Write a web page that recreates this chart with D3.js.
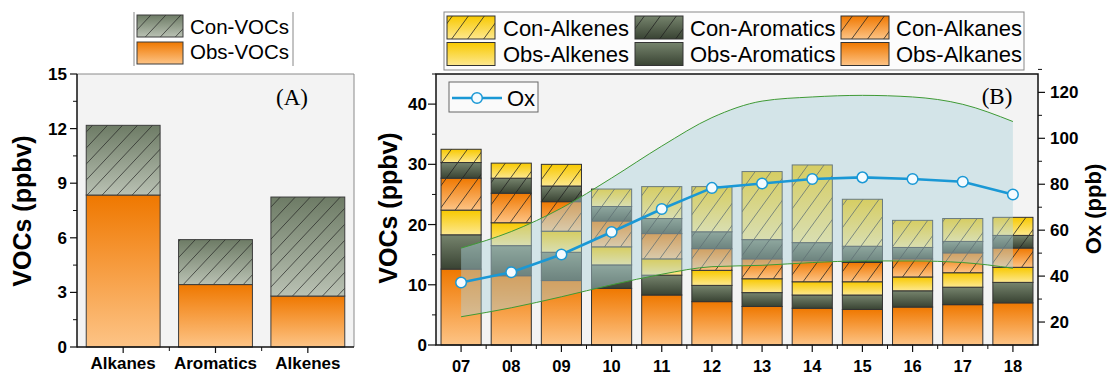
<!DOCTYPE html>
<html><head><meta charset="utf-8">
<script src="https://cdn.jsdelivr.net/npm/d3@7"></script>
<style>body{margin:0;background:#fff}svg{display:block;font-family:Arial,"Liberation Sans",sans-serif}</style>
</head><body><svg id="c" width="1108" height="373"></svg>
<script>
// ---------- data ----------
const categoriesA = ["Alkanes", "Aromatics", "Alkenes"];
const obsVOCs = [8.35, 3.43, 2.80];
const conVOCs = [3.83, 2.47, 5.44];
const ticksA = [0, 3, 6, 9, 12, 15];

const hours = ["07","08","09","10","11","12","13","14","15","16","17","18"];
const obsAlkanes   = [12.6, 11.5, 10.7, 9.4, 8.3, 7.2, 6.4, 6.1, 5.9, 6.3, 6.7, 7.0];
const obsAromatics = [5.7, 5.0, 4.7, 3.9, 3.3, 2.7, 2.3, 2.2, 2.4, 2.7, 2.9, 3.4];
const obsAlkenes   = [4.1, 3.8, 3.5, 3.0, 2.7, 2.5, 2.3, 2.2, 2.2, 2.3, 2.4, 2.5];
const conAlkanes   = [5.3, 4.9, 4.9, 4.3, 4.2, 3.6, 3.3, 3.5, 3.2, 3.0, 3.3, 3.2];
const conAromatics = [2.6, 2.5, 2.6, 2.4, 2.5, 2.8, 3.2, 3.0, 2.7, 1.9, 1.9, 2.1];
const conAlkenes   = [2.2, 2.5, 3.6, 2.9, 5.3, 7.5, 11.3, 12.9, 7.8, 4.5, 3.8, 3.0];
const oxValues = [37.2, 41.7, 49.4, 59.2, 69.2, 78.4, 80.3, 82.3, 83.0, 82.3, 81.1, 75.5];
const oxUpper  = [52.2, 59.4, 69.6, 82.7, 96.6, 109.0, 116.2, 118.0, 118.7, 118.0, 114.8, 107.3];
const oxLower  = [22.3, 26.2, 31.0, 36.2, 40.8, 44.1, 44.7, 45.9, 46.6, 46.6, 45.9, 43.4];
const ticksVOCs = [0, 10, 20, 30, 40];
const ticksOx = [20, 40, 60, 80, 100, 120];

// ---------- setup ----------
const svg = d3.select("#c");
const defs = svg.append("defs");
const SERIF = "'Liberation Serif','Times New Roman',serif";
function linGrad(id, stops) {
  const g = defs.append("linearGradient").attr("id", id)
    .attr("x1", 0).attr("y1", 0).attr("x2", 0).attr("y2", 1);
  stops.forEach(([o, c]) => g.append("stop").attr("offset", o).attr("stop-color", c));
}
linGrad("gOr", [[0, "#ef7800"], [0.45, "#f69a3c"], [1, "#fdc486"]]);
linGrad("gGr", [[0, "#76846d"], [1, "#394333"]]);
linGrad("gYe", [[0, "#f8c900"], [1, "#fde88f"]]);
linGrad("gConA", [[0, "#6d7b65"], [1, "#b9c1b3"]]);
function hatch(id, w, h) {
  defs.append("pattern").attr("id", id).attr("patternUnits", "userSpaceOnUse")
    .attr("width", w).attr("height", h)
    .append("path").attr("d", `M0,${h}L${w},0M${-w},${h}L0,0M${w},${h}L${2*w},0`)
    .attr("stroke", "#1e1e1e").attr("stroke-width", 0.9).attr("fill", "none");
}
hatch("hB", 16, 22);
hatch("hA", 15, 16);

const BOLD = "bold";

// ---------- Panel A ----------
const A = {l: 77, r: 354, t: 74, b: 347};
const xA = d3.scaleBand().domain(categoriesA).range([A.l, A.r]).paddingInner(0.2).paddingOuter(0.1);
const yA = d3.scaleLinear().domain([0, 15]).range([A.b, A.t]);
const gA = svg.append("g");
gA.append("rect").attr("x", A.l).attr("y", A.t).attr("width", A.r - A.l).attr("height", A.b - A.t).attr("fill", "#f3f3f3");
gA.append("line").attr("x1", A.l).attr("x2", A.r).attr("y1", A.t).attr("y2", A.t).attr("stroke", "#8a8a8a");
gA.append("line").attr("x1", A.r).attr("x2", A.r).attr("y1", A.t).attr("y2", A.b).attr("stroke", "#8a8a8a");

categoriesA.forEach((c, i) => {
  const x = xA(c), w = xA.bandwidth();
  gA.append("rect").attr("x", x).attr("width", w).attr("y", yA(obsVOCs[i])).attr("height", yA(0) - yA(obsVOCs[i]))
    .attr("fill", "url(#gOr)").attr("stroke", "#3c3c3c");
  const top = obsVOCs[i] + conVOCs[i];
  const y0 = yA(top), hh = yA(obsVOCs[i]) - yA(top);
  gA.append("rect").attr("x", x).attr("width", w).attr("y", y0).attr("height", hh).attr("fill", "url(#gConA)");
  gA.append("rect").attr("x", x).attr("width", w).attr("y", y0).attr("height", hh).attr("fill", "url(#hA)").attr("opacity", 0.75);
  gA.append("rect").attr("x", x).attr("width", w).attr("y", y0).attr("height", hh).attr("fill", "none").attr("stroke", "#3c3c3c");
});
// axes A
gA.append("line").attr("x1", A.l).attr("x2", A.l).attr("y1", A.t).attr("y2", A.b + 0.5).attr("stroke", "#111").attr("stroke-width", 1.5);
gA.append("line").attr("x1", A.l).attr("x2", A.r).attr("y1", A.b).attr("y2", A.b).attr("stroke", "#111").attr("stroke-width", 1.5);
ticksA.forEach(t => {
  gA.append("line").attr("x1", A.l - 7).attr("x2", A.l).attr("y1", yA(t)).attr("y2", yA(t)).attr("stroke", "#111").attr("stroke-width", 1.2);
  gA.append("text").attr("x", A.l - 10).attr("y", yA(t) + 6).attr("text-anchor", "end")
    .attr("font-size", 17).attr("font-weight", BOLD).text(t);
  if (t < 15) gA.append("line").attr("x1", A.l - 4).attr("x2", A.l).attr("y1", yA(t + 1.5)).attr("y2", yA(t + 1.5)).attr("stroke", "#111");
});
categoriesA.forEach((c, i) => {
  const cx = xA(c) + xA.bandwidth() / 2;
  gA.append("line").attr("x1", cx).attr("x2", cx).attr("y1", A.b).attr("y2", A.b + 6).attr("stroke", "#111").attr("stroke-width", 1.2);
  gA.append("text").attr("x", cx).attr("y", 369).attr("text-anchor", "middle").attr("font-size", 17).attr("font-weight", BOLD).text(c);
  if (i > 0) {
    const bx = xA(c) - xA.step() * xA.paddingInner() / 2;
    gA.append("line").attr("x1", bx).attr("x2", bx).attr("y1", A.b).attr("y2", A.b + 4).attr("stroke", "#111");
  }
});
gA.append("text").attr("transform", "translate(30.5,211) rotate(-90)").attr("text-anchor", "middle")
  .attr("font-size", 25).attr("font-weight", BOLD).text("VOCs (ppbv)");
gA.append("text").attr("x", 292).attr("y", 105).attr("text-anchor", "middle")
  .style("font-family", SERIF).attr("font-size", 23).text("(A)");
// legend A
gA.append("line").attr("x1", 134).attr("x2", 134).attr("y1", 12).attr("y2", 66).attr("stroke", "#888");
gA.append("line").attr("x1", 293).attr("x2", 293).attr("y1", 12).attr("y2", 66).attr("stroke", "#888");
[["Con-VOCs", "url(#gConA)", true, 15, 34], ["Obs-VOCs", "url(#gOr)", false, 42, 59]].forEach(([lab, fill, h, y, by]) => {
  gA.append("rect").attr("x", 137).attr("y", y).attr("width", 46).attr("height", 22).attr("fill", fill);
  if (h) gA.append("rect").attr("x", 137).attr("y", y).attr("width", 46).attr("height", 22).attr("fill", "url(#hA)").attr("opacity", 0.75);
  gA.append("rect").attr("x", 137).attr("y", y).attr("width", 46).attr("height", 22).attr("fill", "none").attr("stroke", "#3c3c3c");
  gA.append("text").attr("x", 190).attr("y", by).attr("font-size", 20.5).text(lab);
});

// ---------- Panel B ----------
const B = {l: 436, r: 1038, t: 74, b: 345};
const xB = d3.scaleBand().domain(hours).range([B.l, B.r]).paddingInner(0.2).paddingOuter(0.1);
const yB = d3.scaleLinear().domain([0, 45]).range([B.b, B.t]);
const yOx = d3.scaleLinear().domain([10, 128]).range([B.b, B.t]);
const cxB = h => xB(h) + xB.bandwidth() / 2;
const gB = svg.append("g");
gB.append("rect").attr("x", B.l).attr("y", B.t).attr("width", B.r - B.l).attr("height", B.b - B.t).attr("fill", "#f3f3f3");

const seriesB = [
  {name: "Obs-Alkanes", vals: obsAlkanes, fill: "url(#gOr)", h: false},
  {name: "Obs-Aromatics", vals: obsAromatics, fill: "url(#gGr)", h: false},
  {name: "Obs-Alkenes", vals: obsAlkenes, fill: "url(#gYe)", h: false},
  {name: "Con-Alkanes", vals: conAlkanes, fill: "url(#gOr)", h: true},
  {name: "Con-Aromatics", vals: conAromatics, fill: "url(#gGr)", h: true},
  {name: "Con-Alkenes", vals: conAlkenes, fill: "url(#gYe)", h: true}
];
const tableB = hours.map((h, i) => {
  const o = {hour: h};
  seriesB.forEach(s => o[s.name] = s.vals[i]);
  return o;
});
const stacked = d3.stack().keys(seriesB.map(s => s.name))(tableB);
stacked.forEach((layer, li) => {
  const s = seriesB[li];
  layer.forEach(d => {
    const x = xB(d.data.hour), w = xB.bandwidth(), y = yB(d[1]), hh = yB(d[0]) - yB(d[1]);
    gB.append("rect").attr("x", x).attr("y", y).attr("width", w).attr("height", hh).attr("fill", s.fill);
    if (s.h) gB.append("rect").attr("x", x).attr("y", y).attr("width", w).attr("height", hh).attr("fill", "url(#hB)").attr("opacity", 0.85);
    gB.append("rect").attr("x", x).attr("y", y).attr("width", w).attr("height", hh).attr("fill", "none").attr("stroke", "#333").attr("stroke-width", 1);
  });
});
// shaded Ox band
const bandData = hours.map((h, i) => ({h, lo: oxLower[i], hi: oxUpper[i]}));
gB.append("path").datum(bandData)
  .attr("d", d3.area().x(d => cxB(d.h)).y0(d => yOx(d.lo)).y1(d => yOx(d.hi)).curve(d3.curveMonotoneX))
  .attr("fill", "#aed3dc").attr("opacity", 0.45);
["hi", "lo"].forEach(k => {
  gB.append("path").datum(bandData)
    .attr("d", d3.line().x(d => cxB(d.h)).y(d => yOx(d[k])).curve(d3.curveMonotoneX))
    .attr("fill", "none").attr("stroke", "#3f9a35").attr("stroke-width", 1);
});
// Ox line
const oxData = hours.map((h, i) => ({h, v: oxValues[i]}));
gB.append("path").datum(oxData).attr("d", d3.line().x(d => cxB(d.h)).y(d => yOx(d.v)))
  .attr("fill", "none").attr("stroke", "#1a98d5").attr("stroke-width", 2.6);
gB.selectAll("circle.ox").data(oxData).join("circle").attr("class", "ox")
  .attr("cx", d => cxB(d.h)).attr("cy", d => yOx(d.v)).attr("r", 5.3)
  .attr("fill", "#f4fbff").attr("stroke", "#1a98d5").attr("stroke-width", 1.5);

// frame & axes B
gB.append("rect").attr("x", B.l).attr("y", B.t).attr("width", B.r - B.l).attr("height", B.b - B.t)
  .attr("fill", "none").attr("stroke", "#111").attr("stroke-width", 1.5);
ticksVOCs.forEach(t => {
  gB.append("line").attr("x1", B.l - 8).attr("x2", B.l).attr("y1", yB(t)).attr("y2", yB(t)).attr("stroke", "#111").attr("stroke-width", 1.2);
  gB.append("text").attr("x", B.l - 9).attr("y", yB(t) + 6).attr("text-anchor", "end").attr("font-size", 17).attr("font-weight", BOLD).text(t);
  gB.append("line").attr("x1", B.l - 4).attr("x2", B.l).attr("y1", yB(t + 5)).attr("y2", yB(t + 5)).attr("stroke", "#111");
});
ticksOx.forEach(t => {
  gB.append("line").attr("x1", B.r).attr("x2", B.r + 7).attr("y1", yOx(t)).attr("y2", yOx(t)).attr("stroke", "#111").attr("stroke-width", 1.2);
  gB.append("text").attr("x", B.r + 12).attr("y", yOx(t) + 6).attr("text-anchor", "start").attr("font-size", 17).attr("font-weight", BOLD).text(t);
  gB.append("line").attr("x1", B.r).attr("x2", B.r + 4).attr("y1", yOx(t + 10)).attr("y2", yOx(t + 10)).attr("stroke", "#111");
});
hours.forEach((h, i) => {
  const cx = cxB(h);
  gB.append("line").attr("x1", cx).attr("x2", cx).attr("y1", B.b).attr("y2", B.b + 7).attr("stroke", "#111").attr("stroke-width", 1.2);
  gB.append("text").attr("x", cx).attr("y", 371.5).attr("text-anchor", "middle").attr("font-size", 16.5).attr("font-weight", BOLD).text(h);
  if (i > 0) {
    const bx = xB(h) - xB.step() * xB.paddingInner() / 2;
    gB.append("line").attr("x1", bx).attr("x2", bx).attr("y1", B.b).attr("y2", B.b + 4).attr("stroke", "#111");
  }
});
gB.append("text").attr("transform", "translate(397,208) rotate(-90)").attr("text-anchor", "middle")
  .attr("font-size", 25).attr("font-weight", BOLD).text("VOCs (ppbv)");
gB.append("text").attr("transform", "translate(1101,209) rotate(-90)").attr("text-anchor", "middle")
  .attr("font-size", 22).attr("font-weight", BOLD).text("Ox (ppb)");
gB.append("text").attr("x", 997).attr("y", 104).attr("text-anchor", "middle")
  .style("font-family", SERIF).attr("font-size", 23).text("(B)");

// Ox legend
gB.append("rect").attr("x", 449).attr("y", 82).attr("width", 89).attr("height", 30).attr("fill", "#fafafa").attr("stroke", "#666");
gB.append("line").attr("x1", 452).attr("x2", 502).attr("y1", 98).attr("y2", 98).attr("stroke", "#1a98d5").attr("stroke-width", 2.6);
gB.append("circle").attr("cx", 477).attr("cy", 98).attr("r", 5.3).attr("fill", "#f4fbff").attr("stroke", "#1a98d5").attr("stroke-width", 1.5);
gB.append("text").attr("x", 507).attr("y", 106).attr("font-size", 22).text("Ox");

// main legend B
gB.append("rect").attr("x", 444).attr("y", 12).attr("width", 580).attr("height", 58).attr("fill", "#fcfcfc").attr("stroke", "#888");
const legendOrder = ["Con-Alkenes", "Con-Aromatics", "Con-Alkanes", "Obs-Alkenes", "Obs-Aromatics", "Obs-Alkanes"];
const colSw = [447, 635, 841], colTx = [503, 690, 896], rowY = [16, 42.5], rowBase = [35.5, 61.5];
legendOrder.forEach((name, k) => {
  const s = seriesB.find(q => q.name === name);
  const c = k % 3, r = Math.floor(k / 3);
  gB.append("rect").attr("x", colSw[c]).attr("y", rowY[r]).attr("width", 48).attr("height", 23).attr("fill", s.fill);
  if (s.h) gB.append("rect").attr("x", colSw[c]).attr("y", rowY[r]).attr("width", 48).attr("height", 23).attr("fill", "url(#hB)").attr("opacity", 0.85);
  gB.append("rect").attr("x", colSw[c]).attr("y", rowY[r]).attr("width", 48).attr("height", 23).attr("fill", "none").attr("stroke", "#333");
  gB.append("text").attr("x", colTx[c]).attr("y", rowBase[r]).attr("font-size", 22).text(name);
});
</script></body></html>
